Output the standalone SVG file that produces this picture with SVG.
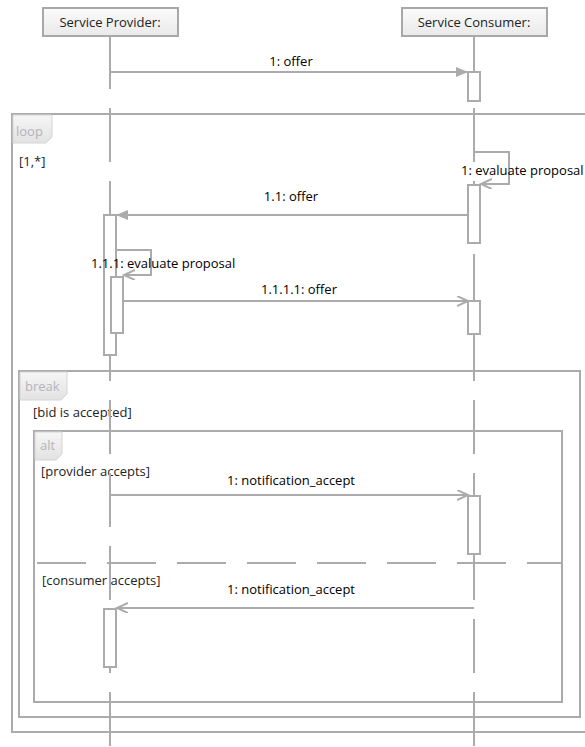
<svg xmlns="http://www.w3.org/2000/svg" width="585" height="747" viewBox="0 0 585 747">
<style>
.ln{stroke:#ababad;stroke-width:2;fill:none}
.life{stroke:#ababad;stroke-width:2;fill:none;stroke-dasharray:54 19}
.act{stroke:#ababad;stroke-width:2;fill:#ffffff}
.frame{stroke:#ababad;stroke-width:2;fill:none}
.tab{stroke:#d4d4d6;stroke-width:1;fill:url(#tabg)}
.hdr{stroke:#a8a8aa;stroke-width:2;fill:url(#hdrg)}
.t{font-family:"Open Sans","Noto Sans",sans-serif;font-size:13px;fill:#000}
.g{font-family:"Open Sans","Noto Sans",sans-serif;font-size:13px;fill:#222}
.fl{font-family:"Open Sans","Noto Sans",sans-serif;font-size:13px;fill:#b4b4b6}
.h{font-family:"Open Sans","Noto Sans",sans-serif;font-size:13px;fill:#222;text-anchor:middle}
.m{text-anchor:middle}
</style>
<defs>
<linearGradient id="hdrg" x1="0" y1="0" x2="0" y2="1"><stop offset="0" stop-color="#fbfbfb"/><stop offset="1" stop-color="#e9e9ea"/></linearGradient>
<linearGradient id="tabg" x1="0" y1="0" x2="0" y2="1"><stop offset="0" stop-color="#f6f6f6"/><stop offset="1" stop-color="#e2e2e3"/></linearGradient>
<marker id="fa" markerUnits="userSpaceOnUse" markerWidth="14" markerHeight="12" refX="12" refY="5" orient="auto"><path d="M0,0 L12,5 L0,10 z" fill="#ababad"/></marker>
<marker id="oa" markerUnits="userSpaceOnUse" markerWidth="14" markerHeight="12" refX="11" refY="5" orient="auto"><path d="M0,0 L11,5 L0,10" fill="none" stroke="#ababad" stroke-width="2"/></marker>
</defs>
<rect width="585" height="747" fill="#ffffff"/>

<g id="frames">
<g id="loop">
<rect class="frame" x="12" y="114" width="590" height="618"/>
<path class="tab" d="M13,115 H52 V137 L46,143 H13 Z"/>
<text class="fl" x="16" y="136">loop</text>
<text class="g" x="19" y="166">[1,*]</text>
</g>
<g id="break">
<rect class="frame" x="19" y="371" width="561" height="346"/>
<path class="tab" d="M20,372 H67 V394 L61,400 H20 Z"/>
<text class="fl" x="25" y="391">break</text>
<text class="g" x="33" y="417">[bid is accepted]</text>
</g>
<g id="alt">
<rect class="frame" x="34" y="431" width="528" height="271"/>
<path class="tab" d="M35,432 H62 V454 L56,460 H35 Z"/>
<text class="fl" x="40" y="450">alt</text>
<line class="ln" x1="35" y1="563" x2="562" y2="563" stroke-dasharray="49 21" stroke-dashoffset="-2"/>
<text class="g" x="41" y="476">[provider accepts]</text>
<text class="g" x="42" y="585">[consumer accepts]</text>
</g>
</g>

<g id="provider">
<line class="life" x1="110" y1="35" x2="110" y2="747"/>
<rect class="hdr" x="43" y="8" width="135" height="28"/>
<text class="h" x="110" y="27">Service Provider:</text>
<rect class="act" x="104" y="215" width="12" height="140"/>
<rect class="act" x="111" y="277" width="12" height="56"/>
<rect class="act" x="104" y="609" width="12" height="58"/>
</g>

<g id="consumer">
<line class="life" x1="474" y1="35" x2="474" y2="747"/>
<rect class="hdr" x="402" y="8" width="145" height="28"/>
<text class="h" x="474" y="27">Service Consumer:</text>
<rect class="act" x="468" y="72" width="12" height="29"/>
<rect class="act" x="468" y="185" width="12" height="58"/>
<rect class="act" x="468" y="301" width="12" height="33"/>
<rect class="act" x="468" y="496" width="12" height="58"/>
</g>

<g id="connectors">
<path class="ln" d="M110,72 H468" marker-end="url(#fa)"/>
<path class="ln" d="M474,152 H509 V184 H481" marker-end="url(#oa)"/>
<path class="ln" d="M468,215 H116" marker-end="url(#fa)"/>
<path class="ln" d="M116,250 H151 V275 H124" marker-end="url(#oa)"/>
<path class="ln" d="M123,301 H468" marker-end="url(#oa)"/>
<path class="ln" d="M110,495 H468" marker-end="url(#oa)"/>
<path class="ln" d="M474,608 H117" marker-end="url(#oa)"/>
</g>

<g id="labels">
<text class="t m" x="291" y="66">1: offer</text>
<text class="t" x="461" y="175">1: evaluate proposal</text>
<text class="t m" x="291" y="201">1.1: offer</text>
<text class="t" x="91" y="268">1.1.1: evaluate proposal</text>
<text class="t" x="261" y="294">1.1.1.1: offer</text>
<text class="t m" x="291" y="485">1: notification_accept</text>
<text class="t m" x="291" y="594">1: notification_accept</text>
</g>
</svg>
